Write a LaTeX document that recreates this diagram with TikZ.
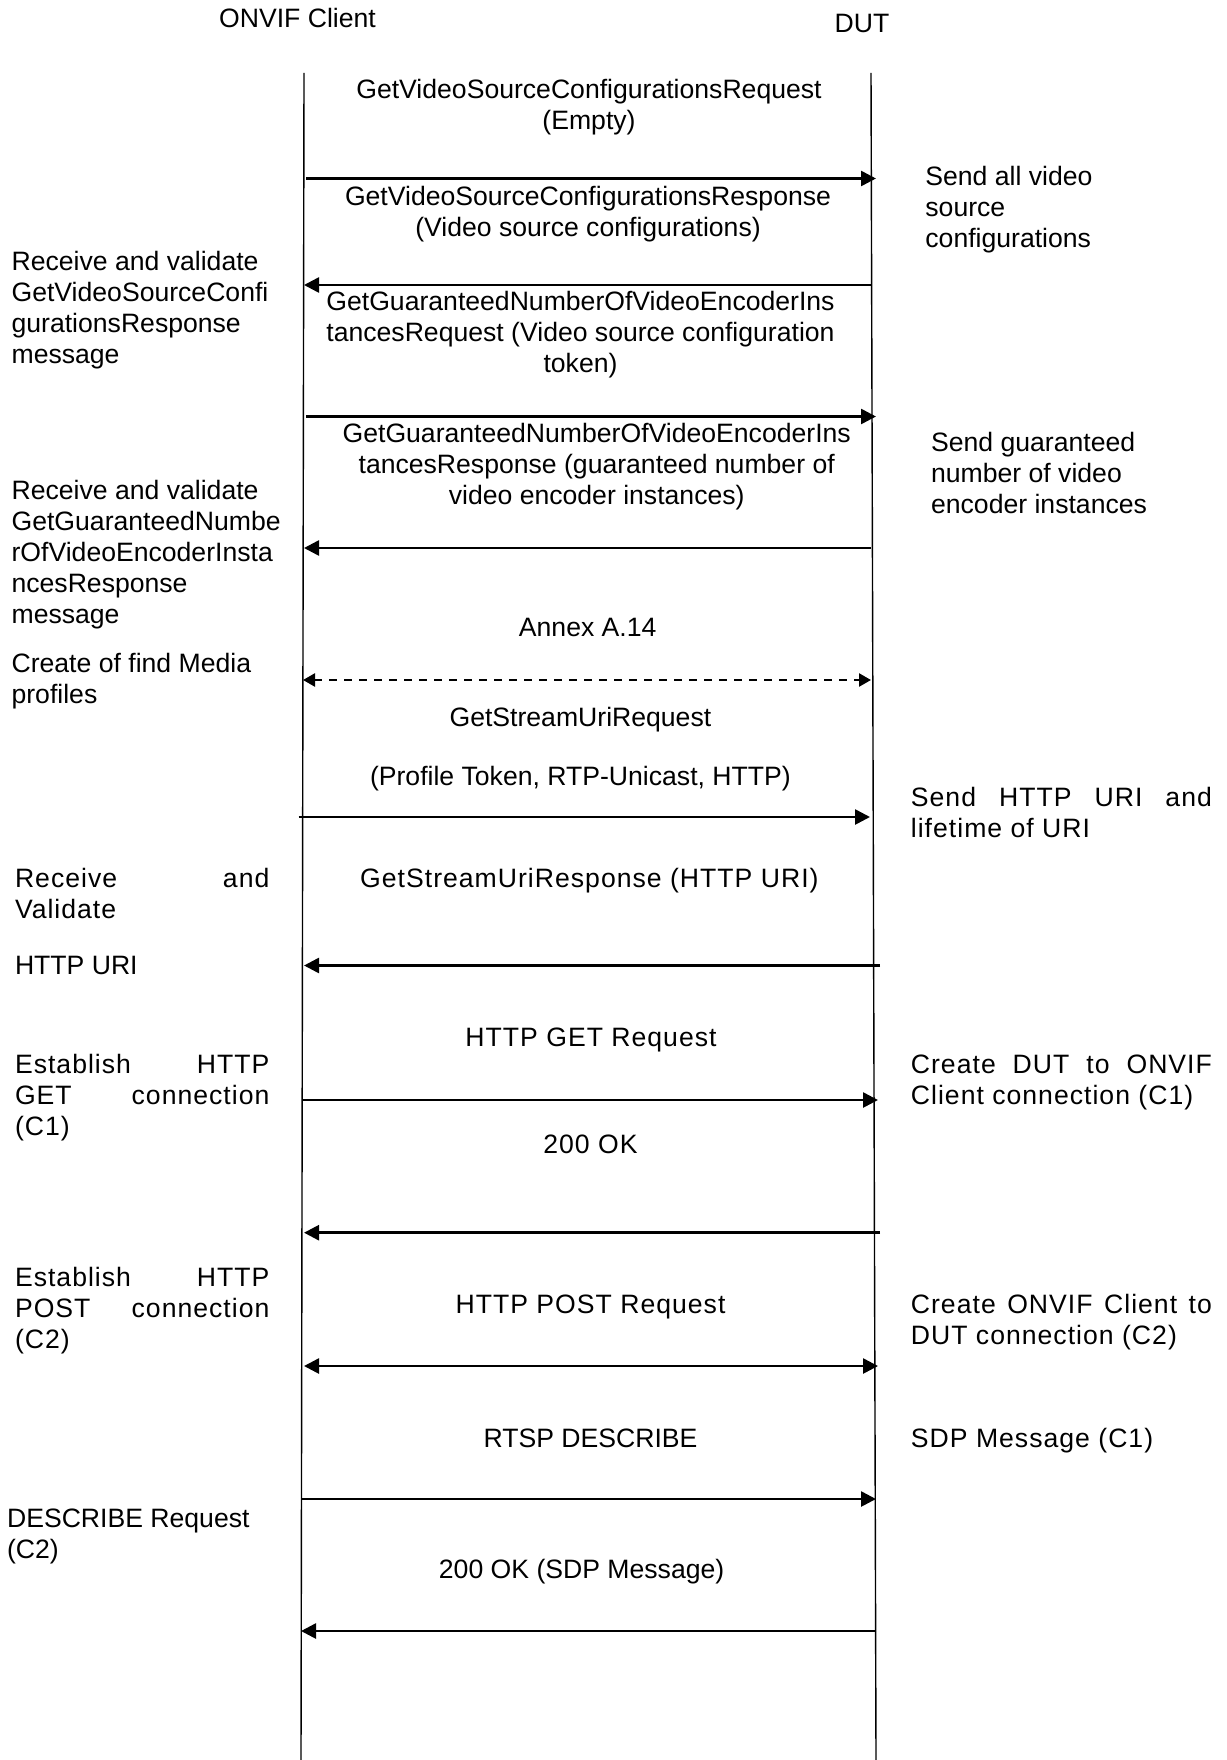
\documentclass[tikz,border=0pt]{standalone}
\usepackage{fontspec}
\setmainfont{Liberation Sans}
\newfontfamily\spc[LetterSpace=3.8]{Liberation Sans}
\usetikzlibrary{arrows.meta}
\newcommand\dfont{\fontsize{13.3}{15.5}\selectfont}
\tikzset{
  txt/.style={inner sep=0pt, font=\dfont},
  ctr/.style={txt, anchor=base, align=center},
  lft/.style={txt, anchor=base west, align=left},
  life/.style={line width=0.7pt},
  msg/.style={line width=1.3pt, -{Triangle[length=7.5pt,width=7.5pt]}},
  dmsg/.style={line width=1.3pt, {Triangle[length=7.5pt,width=7.5pt]}-{Triangle[length=7.5pt,width=7.5pt]}},
  dashmsg/.style={line width=1.2pt, dash pattern=on 4pt off 3.5pt, {Triangle[length=6pt,width=6.5pt]}-{Triangle[length=6pt,width=6.5pt]}},
}
\begin{document}
\begin{tikzpicture}[x=0.5pt,y=-0.5pt]
\useasboundingbox[fill=white] (0,0) rectangle (1226,1760);
% headers
\node[ctr] (hc) at (297.5,28) {ONVIF Client};
\node[ctr] (hd) at (862,33) {DUT};
% lifelines
\coordinate (ltop) at (304,73); \coordinate (lbot) at (301,1760);
\coordinate (rtop) at (871,73); \coordinate (rbot) at (876,1760);
\draw[life] (ltop) -- (lbot);
\draw[life] (rtop) -- (rbot);
% arrow end points
\coordinate (a1s) at (306,178.5);  \coordinate (a1e) at (876,178.5);
\coordinate (a2s) at (871,285);    \coordinate (a2e) at (304,285);
\coordinate (a3s) at (306,416.5);  \coordinate (a3e) at (876,416.5);
\coordinate (a4s) at (871,548);    \coordinate (a4e) at (304,548);
\coordinate (a5s) at (303,680);    \coordinate (a5e) at (871,680);
\coordinate (a6s) at (298.6,817);  \coordinate (a6e) at (870,817);
\coordinate (a7s) at (880,965.5);  \coordinate (a7e) at (304,965.5);
\coordinate (a8s) at (302,1100);   \coordinate (a8e) at (878,1100);
\coordinate (a9s) at (880,1232.7); \coordinate (a9e) at (304,1232.7);
\coordinate (a10s) at (304,1366);  \coordinate (a10e) at (878,1366);
\coordinate (a11s) at (301,1499);  \coordinate (a11e) at (876,1499);
\coordinate (a12s) at (876,1631);  \coordinate (a12e) at (301,1631);
\draw[msg] (a1s) -- (a1e);
\draw[msg] (a2s) -- (a2e);
\draw[msg] (a3s) -- (a3e);
\draw[msg] (a4s) -- (a4e);
\draw[dashmsg] (a5s) -- (a5e);
\draw[msg] (a6s) -- (a6e);
\draw[msg] (a7s) -- (a7e);
\draw[msg] (a8s) -- (a8e);
\draw[msg] (a9s) -- (a9e);
\draw[dmsg] (a10s) -- (a10e);
\draw[msg] (a11s) -- (a11e);
\draw[msg] (a12s) -- (a12e);
% centre labels
\node[ctr] (m1) at (589,130) {GetVideoSourceConfigurationsRequest\\(Empty)};
\node[ctr] (m2) at (588,236.5) {GetVideoSourceConfigurationsResponse\\(Video source configurations)};
\node[ctr] (m3) at (580.5,372) {GetGuaranteedNumberOfVideoEncoderIns\\tancesRequest (Video source configuration\\token)};
\node[ctr] (m4) at (596.7,504) {GetGuaranteedNumberOfVideoEncoderIns\\tancesResponse (guaranteed number of\\video encoder instances)};
\node[ctr] (m5) at (587.7,636.6) {Annex A.14};
\node[ctr] (m6) at (580.4,726) {GetStreamUriRequest};
\node[ctr] (m6b) at (580.4,785) {(Profile Token, RTP-Unicast, HTTP)};
\node[ctr] (m7) at (589.4,887) {\spc GetStreamUriResponse (HTTP URI)};
\node[ctr] (m8) at (591,1046) {\spc HTTP GET Request};
\node[ctr] (m9) at (590.5,1153) {\spc 200 OK};
\node[ctr] (m10) at (590.5,1313.6) {\spc HTTP POST Request};
\node[ctr] (m11) at (590.5,1447) {RTSP DESCRIBE};
\node[ctr] (m12) at (581.6,1578.5) {200 OK (SDP Message)};
% left notes
\node[lft] (l1) at (11.2,363.6) {Receive and validate\\GetVideoSourceConfi\\gurationsResponse\\message};
\node[lft] (l2) at (11.2,623.6) {Receive and validate\\GetGuaranteedNumbe\\rOfVideoEncoderInsta\\ncesResponse\\message};
\node[lft] (l3) at (11.2,703.5) {Create of find Media\\profiles};
\node[lft] (l4) at (14.6,918) {\spc\hbox to 127.2pt{Receive\hfill and}\\\spc Validate};
\node[lft] (l5) at (14.6,974.5) {HTTP URI};
\node[lft] (l6) at (14.6,1135) {\spc\hbox to 127.2pt{Establish\hfill HTTP}\\\spc\hbox to 127.2pt{GET\hfill connection}\\\spc (C1)};
\node[lft] (l7) at (14.6,1348.6) {\spc\hbox to 127.2pt{Establish\hfill HTTP}\\\spc\hbox to 127.2pt{POST\hfill connection}\\\spc (C2)};
\node[lft] (l8) at (6.7,1558) {DESCRIBE Request\\(C2)};
% right notes
\node[lft] (r1) at (925,248) {Send all video\\source\\configurations};
\node[lft] (r2) at (930.7,513) {Send guaranteed\\number of video\\encoder instances};
\node[lft] (r3) at (910.5,837) {\spc\hbox to 150.5pt{Send\hfill HTTP\hfill URI\hfill and}\\\spc lifetime of URI};
\node[lft] (r4) at (910.5,1104) {\spc\hbox to 150.5pt{Create\hfill DUT\hfill to\hfill ONVIF}\\\spc Client connection (C1)};
\node[lft] (r5) at (910.5,1344.6) {\spc\hbox to 150.5pt{Create\hfill ONVIF\hfill Client\hfill to}\\\spc DUT connection (C2)};
\node[lft] (r6) at (910.5,1447) {\spc SDP Message (C1)};
\end{tikzpicture}
\end{document}
